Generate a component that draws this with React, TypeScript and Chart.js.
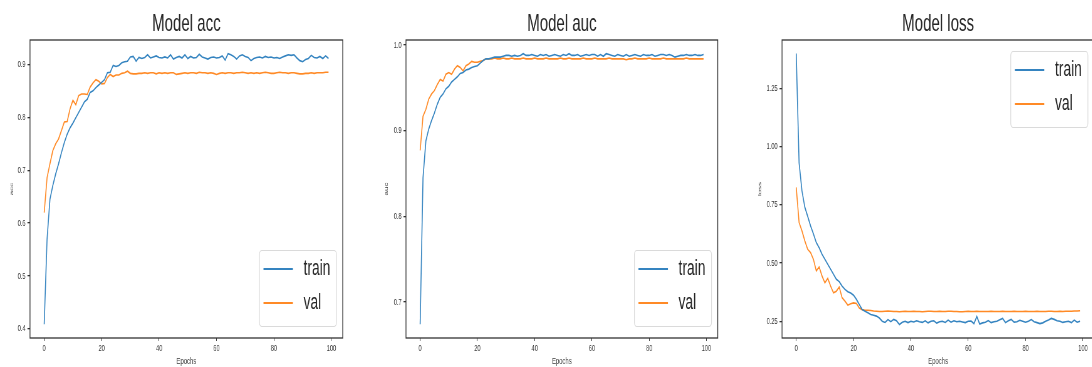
import React, { useEffect, useRef } from "react";
import { Chart, registerables } from "chart.js";

Chart.register(...registerables);

// ---------- data ----------
const EPOCHS = Array.from({ length: 100 }, (_, i) => i);
const X_TICKS = [0, 20, 40, 60, 80, 100];

const ACC_TICKS = [0.4, 0.5, 0.6, 0.7, 0.8, 0.9];
const AUC_TICKS = [0.7, 0.8, 0.9, 1.0];
const LOSS_TICKS = [0.25, 0.5, 0.75, 1.0, 1.25];

const TRAIN_ACC = [
  0.409, 0.57, 0.645, 0.671, 0.693, 0.712, 0.733, 0.752, 0.768, 0.78,
  0.789, 0.799, 0.809, 0.819, 0.829, 0.834, 0.847, 0.85, 0.856, 0.861,
  0.866, 0.871, 0.884, 0.885, 0.898, 0.896, 0.898, 0.903, 0.905, 0.906,
  0.914, 0.915, 0.906, 0.913, 0.911, 0.913, 0.918, 0.912, 0.914, 0.916,
  0.913, 0.912, 0.914, 0.912, 0.918, 0.91, 0.913, 0.915, 0.912, 0.918,
  0.911, 0.915, 0.912, 0.913, 0.919, 0.914, 0.912, 0.91, 0.913, 0.914,
  0.912, 0.913, 0.916, 0.908, 0.92, 0.918, 0.915, 0.91, 0.916, 0.918,
  0.915, 0.913, 0.907, 0.911, 0.913, 0.914, 0.912, 0.915, 0.913, 0.914,
  0.912, 0.913, 0.911, 0.914, 0.916, 0.918, 0.917, 0.918, 0.912, 0.907,
  0.905, 0.909, 0.911, 0.917, 0.913, 0.912, 0.915, 0.911, 0.916, 0.911,
];
const VAL_ACC = [
  0.62, 0.686, 0.712, 0.737, 0.75, 0.759, 0.775, 0.791, 0.792, 0.816,
  0.832, 0.824, 0.841, 0.844, 0.844, 0.843, 0.857, 0.865, 0.871, 0.868,
  0.863, 0.864, 0.875, 0.881, 0.877, 0.88, 0.88, 0.883, 0.884, 0.887,
  0.883, 0.882, 0.882, 0.883, 0.883, 0.884, 0.883, 0.884, 0.884, 0.882,
  0.884, 0.883, 0.884, 0.883, 0.884, 0.884, 0.881, 0.882, 0.883, 0.884,
  0.883, 0.884, 0.884, 0.883, 0.885, 0.884, 0.884, 0.883, 0.884, 0.883,
  0.881, 0.883, 0.884, 0.883, 0.884, 0.884, 0.883, 0.884, 0.884, 0.885,
  0.884, 0.883, 0.884, 0.883, 0.884, 0.883, 0.884, 0.885, 0.884, 0.883,
  0.883, 0.884, 0.885, 0.884, 0.884, 0.883, 0.884, 0.884, 0.883, 0.882,
  0.882, 0.883, 0.883, 0.884, 0.883, 0.884, 0.884, 0.884, 0.885, 0.885,
];

const TRAIN_AUC = [
  0.674, 0.845, 0.888, 0.902, 0.912, 0.921, 0.931, 0.939, 0.943, 0.949,
  0.952, 0.957, 0.96, 0.963, 0.967, 0.968, 0.971, 0.972, 0.974, 0.975,
  0.976, 0.979, 0.982, 0.984, 0.984, 0.985, 0.986, 0.986, 0.986, 0.987,
  0.988, 0.988, 0.987, 0.988, 0.987, 0.988, 0.99, 0.988, 0.988, 0.989,
  0.988, 0.987, 0.989, 0.988, 0.989, 0.987, 0.988, 0.989, 0.988, 0.987,
  0.989, 0.988, 0.99, 0.988, 0.988, 0.989, 0.987, 0.988, 0.989, 0.988,
  0.989, 0.989, 0.987, 0.989, 0.987, 0.99, 0.989, 0.988, 0.987, 0.989,
  0.988, 0.987, 0.989, 0.987, 0.988, 0.989, 0.988, 0.987, 0.989, 0.988,
  0.988, 0.989, 0.987, 0.988, 0.989, 0.989, 0.988, 0.989, 0.988, 0.986,
  0.987, 0.988, 0.988, 0.989, 0.988, 0.988, 0.989, 0.988, 0.988, 0.989,
];
const VAL_AUC = [
  0.877, 0.917, 0.925, 0.937, 0.943, 0.947, 0.954, 0.96, 0.958, 0.966,
  0.968, 0.966, 0.972, 0.976, 0.974, 0.97, 0.976, 0.978, 0.981, 0.98,
  0.98, 0.981, 0.982, 0.984, 0.984, 0.984, 0.985, 0.984, 0.984, 0.985,
  0.984, 0.984, 0.985, 0.984, 0.984, 0.984, 0.985, 0.984, 0.984, 0.984,
  0.985, 0.984, 0.984, 0.984, 0.985, 0.984, 0.984, 0.984, 0.984, 0.985,
  0.984, 0.984, 0.985, 0.984, 0.984, 0.984, 0.984, 0.985, 0.984, 0.984,
  0.984, 0.985, 0.984, 0.984, 0.984, 0.984, 0.985, 0.984, 0.984, 0.984,
  0.984, 0.984, 0.983, 0.984, 0.984, 0.985, 0.984, 0.984, 0.984, 0.984,
  0.985, 0.984, 0.984, 0.984, 0.984, 0.985, 0.984, 0.984, 0.984, 0.984,
  0.984, 0.984, 0.984, 0.985, 0.984, 0.984, 0.984, 0.984, 0.984, 0.984,
];

const TRAIN_LOSS = [
  1.4, 0.93, 0.81, 0.74, 0.7, 0.66, 0.625, 0.588, 0.566, 0.538,
  0.516, 0.495, 0.473, 0.452, 0.43, 0.42, 0.401, 0.387, 0.377, 0.371,
  0.362, 0.344, 0.322, 0.3, 0.293, 0.286, 0.279, 0.276, 0.272, 0.264,
  0.25, 0.245, 0.257, 0.248, 0.258, 0.252, 0.236, 0.246, 0.25, 0.244,
  0.25, 0.247, 0.252, 0.248, 0.245, 0.252, 0.243, 0.25, 0.252, 0.242,
  0.248, 0.25, 0.245, 0.255, 0.246, 0.252, 0.248, 0.25, 0.247, 0.244,
  0.25, 0.251, 0.24, 0.27, 0.238, 0.243, 0.246, 0.253, 0.244, 0.248,
  0.25, 0.256, 0.262, 0.244, 0.252, 0.258, 0.246, 0.248, 0.254, 0.25,
  0.246, 0.25, 0.257, 0.248, 0.244, 0.24, 0.243, 0.25, 0.255, 0.262,
  0.258, 0.252, 0.25, 0.245, 0.248, 0.25, 0.244, 0.255, 0.246, 0.25,
];
const VAL_LOSS = [
  0.825, 0.674, 0.638, 0.595, 0.559, 0.545, 0.516, 0.466, 0.483, 0.444,
  0.415, 0.434, 0.401, 0.372, 0.379, 0.397, 0.351, 0.336, 0.319, 0.325,
  0.329, 0.326, 0.307, 0.3, 0.297, 0.297, 0.296, 0.294, 0.293, 0.292,
  0.292, 0.293, 0.294, 0.293, 0.292, 0.292, 0.291, 0.292, 0.293, 0.292,
  0.292, 0.293, 0.292, 0.292, 0.291, 0.292, 0.293, 0.293, 0.292, 0.292,
  0.293, 0.292, 0.292, 0.293, 0.293, 0.292, 0.292, 0.291, 0.291, 0.292,
  0.293, 0.292, 0.292, 0.293, 0.292, 0.292, 0.292, 0.292, 0.293, 0.292,
  0.292, 0.292, 0.293, 0.292, 0.292, 0.292, 0.293, 0.292, 0.292, 0.292,
  0.293, 0.292, 0.292, 0.292, 0.293, 0.292, 0.292, 0.292, 0.293, 0.293,
  0.292, 0.292, 0.293, 0.292, 0.293, 0.293, 0.293, 0.294, 0.294, 0.295,
];

// ---------- styling ----------
const FONT = "'Liberation Sans', Arial, Helvetica, sans-serif";
const SQUISH = 0.627; // the reference is compressed horizontally
const BLUE = "#3584c0";
const ORANGE = "#ff8a26";
const TEXT = "#262626";
const TICK_TEXT = "#3a3a3a";
const FRAME = "#333333";

type PanelDef = {
  title: string;
  yLabel: string;
  train: number[];
  val: number[];
  yTicks: number[];
  decimals: number;
  yMin: number;
  yMax: number;
  legend: "lower" | "upper";
  left: number; // display px
  width: number; // display px
  areaLeft: number; // canvas px
  areaRight: number; // canvas px
  yTitleX: number; // canvas px
};

const PANELS: PanelDef[] = [
  {
    title: "Model acc", yLabel: "acc", train: TRAIN_ACC, val: VAL_ACC,
    yTicks: ACC_TICKS, decimals: 1, yMin: 0.383, yMax: 0.946, legend: "lower",
    left: 0, width: 364, areaLeft: 30 / SQUISH, areaRight: 343 / SQUISH, yTitleX: 12 / SQUISH,
  },
  {
    title: "Model auc", yLabel: "auc", train: TRAIN_AUC, val: VAL_AUC,
    yTicks: AUC_TICKS, decimals: 1, yMin: 0.658, yMax: 1.006, legend: "lower",
    left: 364, width: 364, areaLeft: 42 / SQUISH, areaRight: 354 / SQUISH, yTitleX: 22.3 / SQUISH,
  },
  {
    title: "Model loss", yLabel: "loss", train: TRAIN_LOSS, val: VAL_LOSS,
    yTicks: LOSS_TICKS, decimals: 2, yMin: 0.178, yMax: 1.458, legend: "upper",
    left: 728, width: 372, areaLeft: 54 / SQUISH, areaRight: 366 / SQUISH, yTitleX: 31.7 / SQUISH,
  },
];

const H = 367;

const framePlugin = {
  id: "frameAndLegend",
  afterDraw(chart: any, _args: any, opts: any) {
    const { ctx, chartArea: a } = chart;
    ctx.save();
    ctx.strokeStyle = FRAME;
    ctx.lineWidth = 1.3;
    ctx.strokeRect(a.left, a.top, a.right - a.left, a.bottom - a.top);

    // legend box
    const bw = 123;
    const bh = 76;
    const bx = a.right - 10 - bw;
    const by = opts.pos === "upper" ? a.top + 11.5 : a.bottom - 11.5 - bh;
    ctx.beginPath();
    if (typeof ctx.roundRect === "function") ctx.roundRect(bx, by, bw, bh, 4);
    else ctx.rect(bx, by, bw, bh);
    ctx.fillStyle = "rgba(255,255,255,0.85)";
    ctx.fill();
    ctx.strokeStyle = "#dadada";
    ctx.lineWidth = 1.2;
    ctx.stroke();

    const rows = [18.5, 52.5];
    chart.data.datasets.forEach((ds: any, i: number) => {
      const y = by + rows[i];
      ctx.beginPath();
      ctx.strokeStyle = ds.borderColor;
      ctx.lineWidth = 2.2;
      ctx.moveTo(bx + 6.5, y);
      ctx.lineTo(bx + 53.5, y);
      ctx.stroke();
      ctx.fillStyle = TEXT;
      ctx.font = `22px ${FONT}`;
      ctx.textBaseline = "middle";
      ctx.textAlign = "left";
      ctx.fillText(ds.label, bx + 70.5, y);
    });
    ctx.restore();
  },
};

function Panel({ p }: { p: PanelDef }) {
  const ref = useRef<HTMLCanvasElement | null>(null);
  const cw = Math.round(p.width / SQUISH);

  useEffect(() => {
    if (!ref.current) return;
    const yTitleFont = 8;
    const chart = new Chart(ref.current, {
      type: "line",
      data: {
        labels: EPOCHS,
        datasets: [
          { label: "train", data: p.train, borderColor: BLUE, borderWidth: 1.6, pointRadius: 0, tension: 0, fill: false },
          { label: "val", data: p.val, borderColor: ORANGE, borderWidth: 1.6, pointRadius: 0, tension: 0, fill: false },
        ],
      },
      options: {
        animation: false,
        responsive: false,
        devicePixelRatio: 1,
        layout: { padding: { left: 0, top: 0, bottom: 0, right: cw - p.areaRight } },
        plugins: {
          legend: { display: false },
          tooltip: { enabled: false },
          title: {
            display: true,
            text: p.title,
            fullSize: false,
            color: TEXT,
            font: { family: FONT, size: 24, weight: "normal", lineHeight: 1 },
            padding: { top: 12, bottom: 4 },
          },
          frameAndLegend: { pos: p.legend },
        } as any,
        scales: {
          x: {
            type: "linear",
            min: -4.95,
            max: 103.95,
            afterBuildTicks: (s: any) => {
              s.ticks = X_TICKS.map((v) => ({ value: v }));
            },
            afterFit: (s: any) => {
              s.height = 29;
            },
            ticks: {
              color: TICK_TEXT,
              font: { family: FONT, size: 9 },
              padding: 2,
              maxRotation: 0,
              callback: (v: any) => String(v),
            },
            grid: { display: true, drawOnChartArea: false, drawTicks: true, tickLength: 3, color: FRAME, lineWidth: 1 },
            border: { display: false },
            title: {
              display: true,
              text: "Epochs",
              color: TICK_TEXT,
              font: { family: FONT, size: 9.5 },
              padding: { top: 0, bottom: 0 },
            },
          },
          y: {
            type: "linear",
            min: p.yMin,
            max: p.yMax,
            afterBuildTicks: (s: any) => {
              s.ticks = p.yTicks.map((v) => ({ value: v }));
            },
            afterFit: (s: any) => {
              s.width = p.areaLeft;
            },
            ticks: {
              color: TICK_TEXT,
              font: { family: FONT, size: 9 },
              padding: 3,
              callback: (v: any) => Number(v).toFixed(p.decimals),
            },
            grid: { display: true, drawOnChartArea: false, drawTicks: true, tickLength: 4, color: FRAME, lineWidth: 1.3 },
            border: { display: false },
            title: {
              display: true,
              text: p.yLabel,
              color: TICK_TEXT,
              font: { family: FONT, size: yTitleFont, lineHeight: 1.2 },
              padding: { top: p.yTitleX - (yTitleFont * 1.2) / 2, bottom: 0 },
            },
          },
        },
      } as any,
      plugins: [framePlugin],
    });
    return () => chart.destroy();
  }, []);

  return (
    <canvas
      ref={ref}
      width={cw}
      height={H}
      style={{ position: "absolute", left: p.left, top: 0, width: p.width + "px", height: H + "px" }}
    />
  );
}

export default function App() {
  return (
    <div
      style={{
        position: "fixed",
        left: 0,
        top: 0,
        width: 1092,
        height: H,
        overflow: "hidden",
        background: "#ffffff",
      }}
    >
      {PANELS.map((p) => (
        <Panel key={p.title} p={p} />
      ))}
    </div>
  );
}
